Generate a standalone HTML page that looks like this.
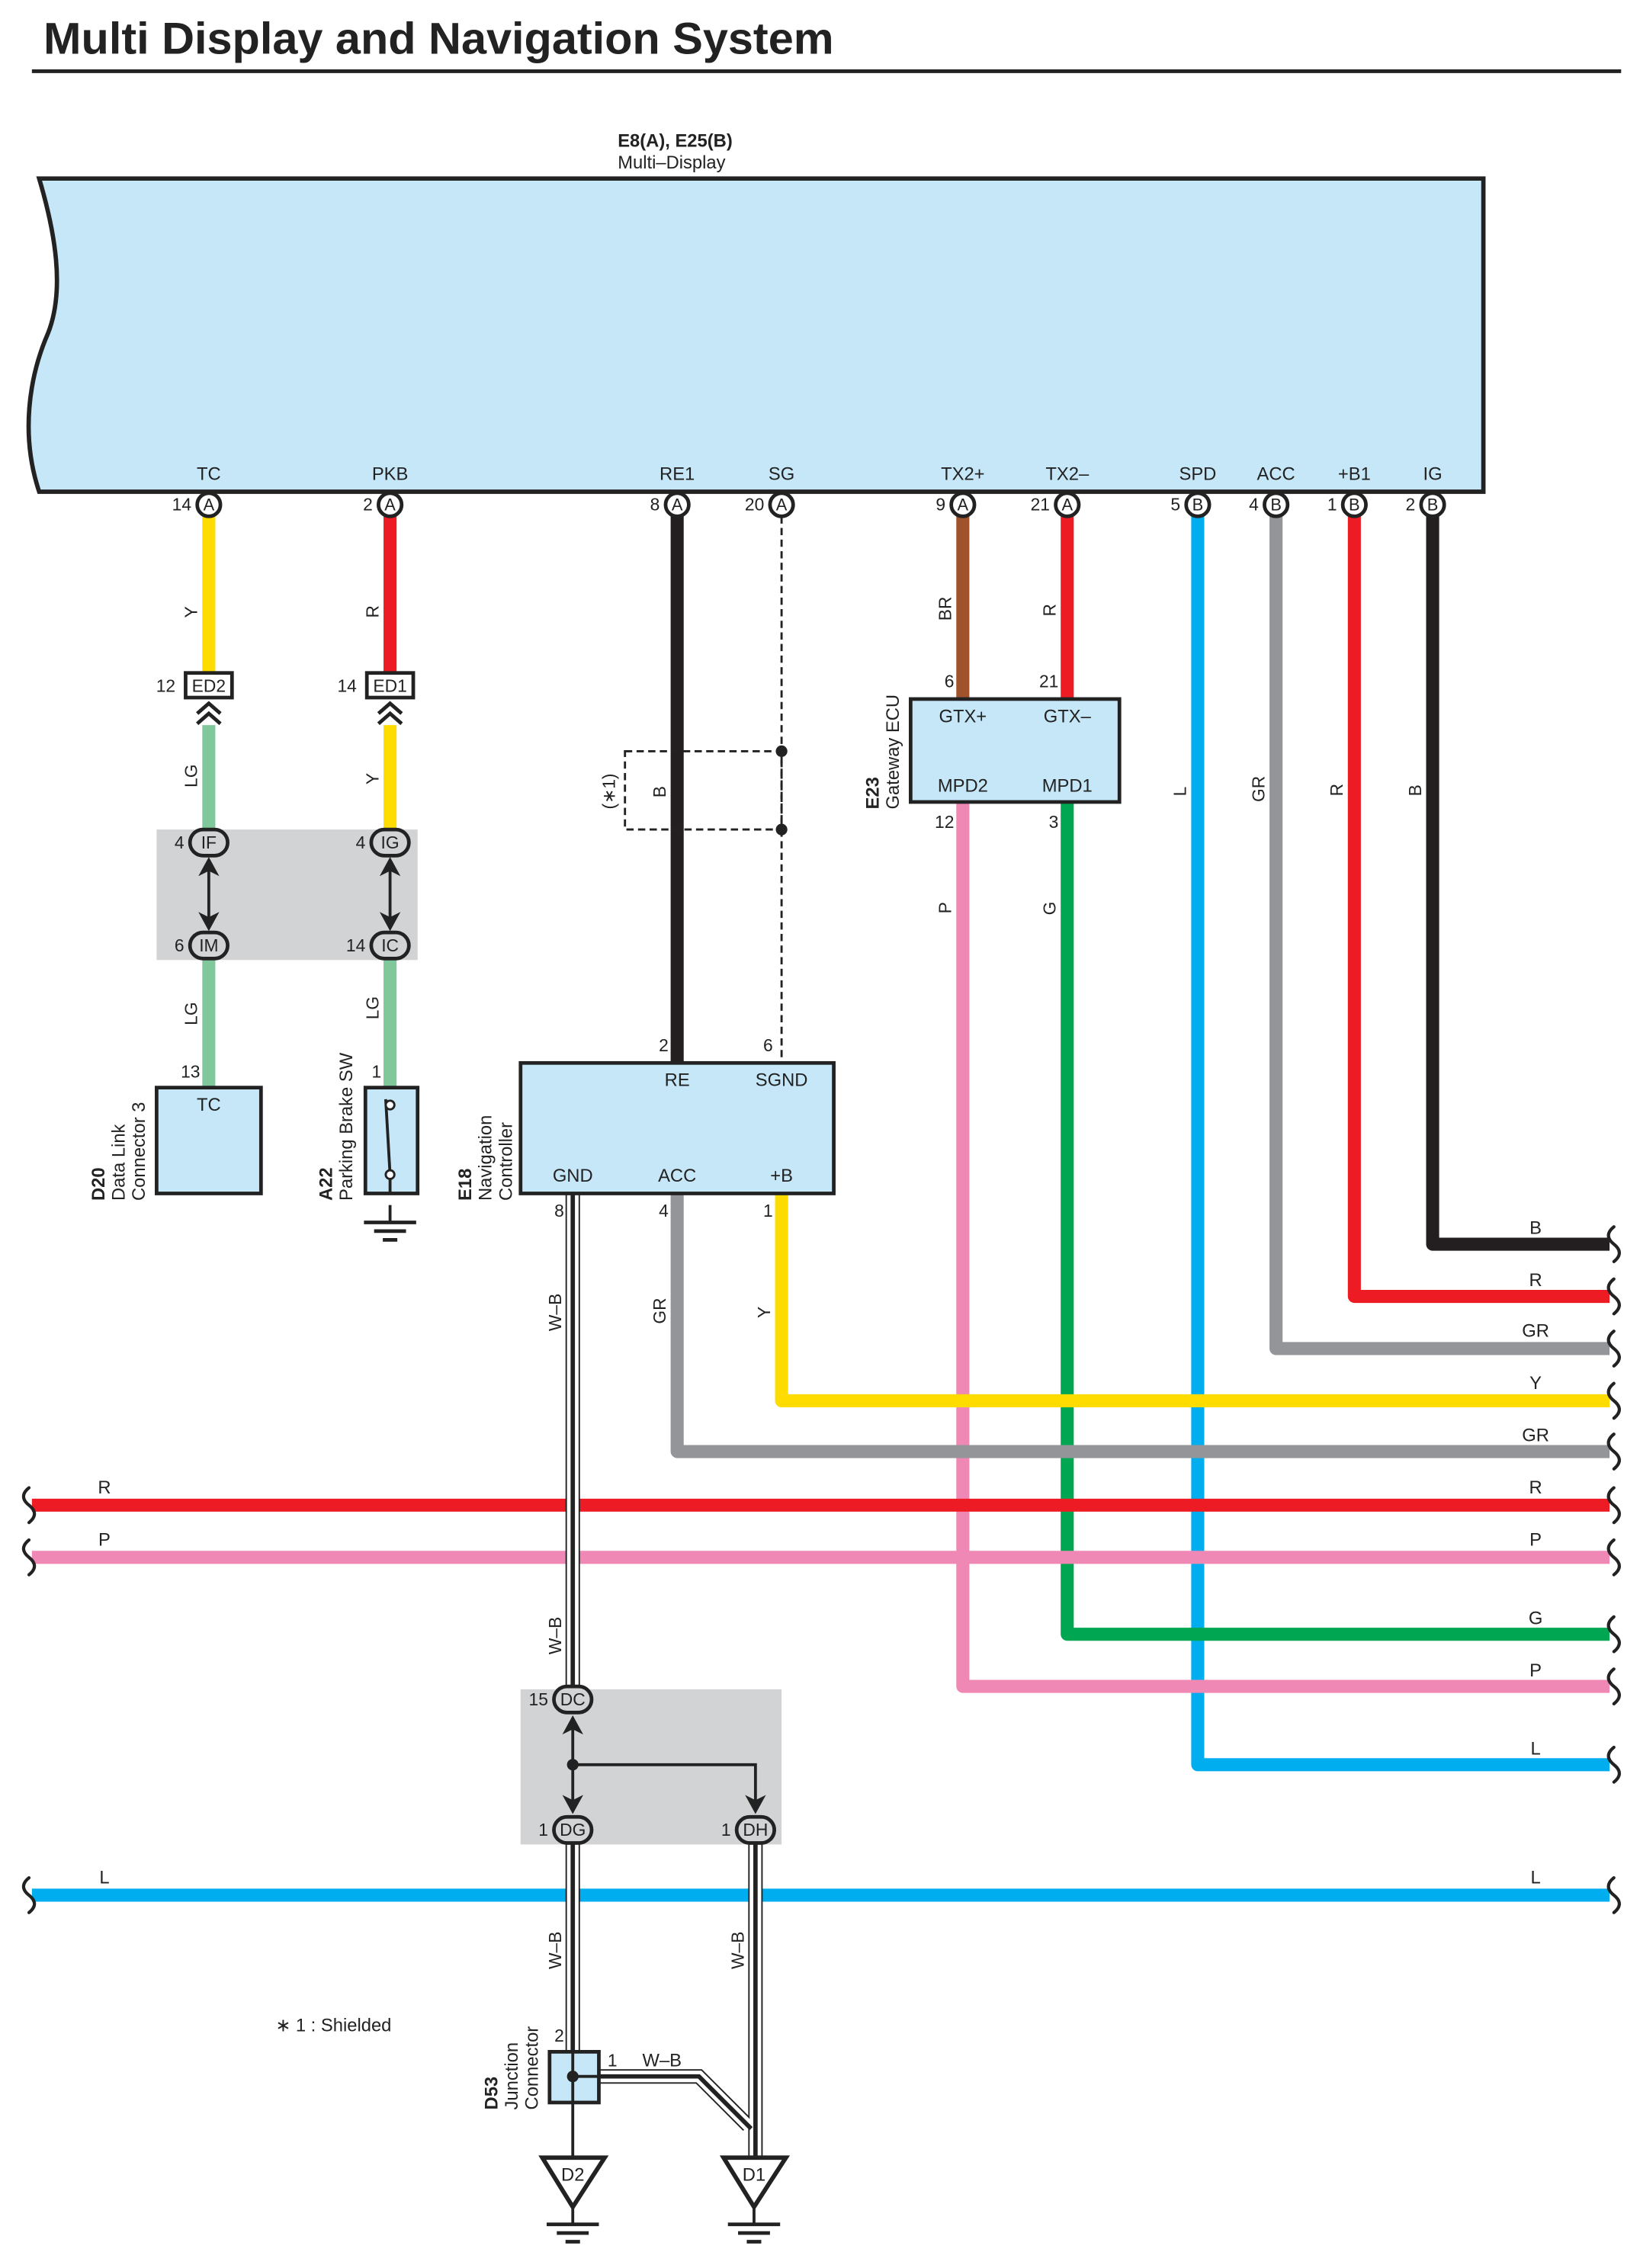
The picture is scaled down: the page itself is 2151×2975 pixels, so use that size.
<!DOCTYPE html>
<html><head><meta charset="utf-8"><style>
html,body{margin:0;padding:0;background:#fff}
svg{display:block}
text{font-family:"Liberation Sans",sans-serif;fill:#222}
</style></head><body>
<svg width="2151" height="2975" viewBox="0 0 1131 1564" xmlns="http://www.w3.org/2000/svg">
<defs>
<g id="gnd"><line x1="0" y1="0" x2="0" y2="12" stroke="#222" stroke-width="2"/><line x1="-18" y1="12" x2="18" y2="12" stroke="#222" stroke-width="2.5"/><line x1="-11" y1="18" x2="11" y2="18" stroke="#222" stroke-width="2.5"/><line x1="-5" y1="24" x2="5" y2="24" stroke="#222" stroke-width="2.5"/></g>
</defs>
<!-- title -->
<text x="30" y="37" font-size="30.5" font-weight="bold" fill="#111" textLength="545" lengthAdjust="spacingAndGlyphs">Multi Display and Navigation System</text>
<line x1="22" y1="49" x2="1118" y2="49" stroke="#222" stroke-width="2.5"/>

<!-- Multi display -->
<text x="426" y="101" font-size="12.5" font-weight="bold">E8(A), E25(B)</text>
<text x="426" y="116" font-size="12.5">Multi–Display</text>
<path d="M27,123 L1023,123 L1023,339 L27,339 C14,300 20,260 33,230 C45,200 38,160 27,123 Z" fill="#c6e7f8" stroke="#222" stroke-width="3"/>

<g font-size="12.5" text-anchor="middle">
<text x="144" y="331">TC</text><text x="269" y="331">PKB</text><text x="467" y="331">RE1</text><text x="539" y="331">SG</text>
<text x="664" y="331">TX2+</text><text x="736" y="331">TX2–</text><text x="826" y="331">SPD</text><text x="880" y="331">ACC</text><text x="934" y="331">+B1</text><text x="988" y="331">IG</text>
</g>

<!-- wires -->
<g fill="none" stroke-width="9" stroke-linejoin="round">
<line x1="144" y1="356" x2="144" y2="465" stroke="#ffdc00"/>
<line x1="269" y1="356" x2="269" y2="465" stroke="#ed1c24"/>
<line x1="144" y1="500" x2="144" y2="750" stroke="#80c89c"/>
<line x1="269" y1="500" x2="269" y2="574" stroke="#ffdc00"/>
<line x1="269" y1="660" x2="269" y2="750" stroke="#80c89c"/>
<line x1="467" y1="356" x2="467" y2="733" stroke="#231f20"/>
<line x1="664" y1="356" x2="664" y2="482" stroke="#a0522d"/>
<line x1="736" y1="356" x2="736" y2="482" stroke="#ed1c24"/>
<path d="M826,356 V1217 H1110" stroke="#00aeef"/>
<path d="M880,356 V930 H1110" stroke="#939598"/>
<path d="M934,356 V894 H1110" stroke="#ed1c24"/>
<path d="M988,356 V858 H1110" stroke="#231f20"/>
<path d="M664,553 V1163 H1110" stroke="#f088b6"/>
<path d="M736,553 V1127 H1110" stroke="#00a651"/>
<path d="M467,823 V1001 H1110" stroke="#939598"/>
<path d="M539,823 V966 H1110" stroke="#ffdc00"/>
<line x1="22" y1="1038" x2="1110" y2="1038" stroke="#ed1c24"/>
<line x1="22" y1="1074" x2="1110" y2="1074" stroke="#f088b6"/>
<line x1="22" y1="1307" x2="1110" y2="1307" stroke="#00aeef"/>
</g>
<!-- SG dashed -->
<line x1="539" y1="356" x2="539" y2="733" stroke="#222" stroke-width="1.5" stroke-dasharray="5,3"/>
<rect x="431" y="518" width="108" height="54" fill="none" stroke="#222" stroke-width="1.5" stroke-dasharray="5,3"/>
<circle cx="539" cy="518" r="4" fill="#222"/><circle cx="539" cy="572" r="4" fill="#222"/>

<!-- W-B wires -->
<g fill="none">
<g stroke="#222" stroke-width="10"><line x1="395" y1="823" x2="395" y2="1165"/><line x1="395" y1="1272" x2="395" y2="1415"/><line x1="521" y1="1272" x2="521" y2="1487"/><path d="M413,1432 H482 L516,1466"/></g>
<g stroke="#fff" stroke-width="8"><line x1="395" y1="823" x2="395" y2="1165"/><line x1="395" y1="1272" x2="395" y2="1415"/><line x1="521" y1="1272" x2="521" y2="1487"/><path d="M413,1432 H482 L516,1466"/></g>
<g stroke="#222" stroke-width="3"><line x1="395" y1="823" x2="395" y2="1165"/><line x1="395" y1="1272" x2="395" y2="1415"/><line x1="521" y1="1272" x2="521" y2="1487"/><path d="M413,1432 H482 L518,1468"/></g>
</g>

<!-- pin circles -->
<g fill="#fff" stroke="#222" stroke-width="2.5">
<circle cx="144" cy="348" r="8"/><circle cx="269" cy="348" r="8"/><circle cx="467" cy="348" r="8"/><circle cx="539" cy="348" r="8"/>
<circle cx="664" cy="348" r="8"/><circle cx="736" cy="348" r="8"/><circle cx="826" cy="348" r="8"/><circle cx="880" cy="348" r="8"/><circle cx="934" cy="348" r="8"/><circle cx="988" cy="348" r="8"/>
</g>
<g font-size="11.5" text-anchor="middle">
<text x="144" y="352">A</text><text x="269" y="352">A</text><text x="467" y="352">A</text><text x="539" y="352">A</text><text x="664" y="352">A</text><text x="736" y="352">A</text>
<text x="826" y="352">B</text><text x="880" y="352">B</text><text x="934" y="352">B</text><text x="988" y="352">B</text>
</g>
<g font-size="12" text-anchor="end">
<text x="132" y="352">14</text><text x="257" y="352">2</text><text x="455" y="352">8</text><text x="527" y="352">20</text><text x="652" y="352">9</text><text x="724" y="352">21</text>
<text x="814" y="352">5</text><text x="868" y="352">4</text><text x="922" y="352">1</text><text x="976" y="352">2</text>
</g>

<!-- ED boxes -->
<rect x="128" y="464" width="32" height="17" fill="#fff" stroke="#222" stroke-width="2.5"/>
<rect x="253" y="464" width="32" height="17" fill="#fff" stroke="#222" stroke-width="2.5"/>
<text x="144" y="477" font-size="12" text-anchor="middle">ED2</text><text x="269" y="477" font-size="12" text-anchor="middle">ED1</text>
<text x="121" y="477" font-size="12" text-anchor="end">12</text><text x="246" y="477" font-size="12" text-anchor="end">14</text>
<g fill="none" stroke="#222" stroke-width="2.5">
<path d="M136,492 L144,485 L152,492 M136,499 L144,492 L152,499"/>
<path d="M261,492 L269,485 L277,492 M261,499 L269,492 L277,499"/>
</g>

<!-- gray junction box 1 -->
<rect x="108" y="572" width="180" height="90" fill="#d1d3d4"/>
<g stroke="#222" stroke-width="2.5" fill="#d1d3d4">
<rect x="131" y="572" width="26" height="18" rx="9"/><rect x="131" y="643" width="26" height="18" rx="9"/>
<rect x="256" y="572" width="26" height="18" rx="9"/><rect x="256" y="643" width="26" height="18" rx="9"/>
</g>
<g font-size="12" text-anchor="middle">
<text x="144" y="585">IF</text><text x="144" y="656">IM</text><text x="269" y="585">IG</text><text x="269" y="656">IC</text>
</g>
<g font-size="12" text-anchor="end"><text x="127" y="585">4</text><text x="127" y="656">6</text><text x="252" y="585">4</text><text x="252" y="656">14</text></g>
<g fill="#222" stroke="#222">
<line x1="144" y1="596" x2="144" y2="636" stroke-width="2"/><path d="M138,603 L144,592 L150,603 L144,600Z M138,630 L144,641 L150,630 L144,633Z"/>
<line x1="269" y1="596" x2="269" y2="636" stroke-width="2"/><path d="M263,603 L269,592 L275,603 L269,600Z M263,630 L269,641 L275,630 L269,633Z"/>
</g>

<!-- D20 -->
<rect x="108" y="750" width="72" height="73" fill="#c6e7f8" stroke="#222" stroke-width="2.5"/>
<text x="144" y="766" font-size="12.5" text-anchor="middle">TC</text>
<text x="138" y="743" font-size="12" text-anchor="end">13</text>
<g transform="translate(72,828) rotate(-90)"><text font-size="12.5" font-weight="bold">D20</text></g>
<g transform="translate(86,828) rotate(-90)"><text font-size="12.5">Data Link</text></g>
<g transform="translate(100,828) rotate(-90)"><text font-size="12.5">Connector 3</text></g>

<!-- A22 -->
<rect x="252" y="750" width="36" height="73" fill="#c6e7f8" stroke="#222" stroke-width="2.5"/>
<text x="263" y="743" font-size="12" text-anchor="end">1</text>
<line x1="266" y1="758" x2="269" y2="810" stroke="#222" stroke-width="2"/>
<circle cx="269" cy="762" r="3" fill="#fff" stroke="#222" stroke-width="1.5"/><circle cx="269" cy="810" r="3" fill="#fff" stroke="#222" stroke-width="1.5"/>
<line x1="269" y1="813" x2="269" y2="823" stroke="#222" stroke-width="2"/>
<use href="#gnd" x="269" y="831"/>
<g transform="translate(229,828) rotate(-90)"><text font-size="12.5" font-weight="bold">A22</text></g>
<g transform="translate(243,828) rotate(-90)"><text font-size="12.5">Parking Brake SW</text></g>

<!-- E18 -->
<rect x="359" y="733" width="216" height="90" fill="#c6e7f8" stroke="#222" stroke-width="2.5"/>
<g font-size="12.5" text-anchor="middle"><text x="467" y="749">RE</text><text x="539" y="749">SGND</text><text x="395" y="815">GND</text><text x="467" y="815">ACC</text><text x="539" y="815">+B</text></g>
<g font-size="12" text-anchor="end"><text x="461" y="725">2</text><text x="533" y="725">6</text><text x="389" y="839">8</text><text x="461" y="839">4</text><text x="533" y="839">1</text></g>
<g transform="translate(325,828) rotate(-90)"><text font-size="12.5" font-weight="bold">E18</text></g>
<g transform="translate(339,828) rotate(-90)"><text font-size="12.5">Navigation</text></g>
<g transform="translate(353,828) rotate(-90)"><text font-size="12.5">Controller</text></g>

<!-- E23 -->
<rect x="628" y="482" width="144" height="71" fill="#c6e7f8" stroke="#222" stroke-width="2.5"/>
<g font-size="12.5" text-anchor="middle"><text x="664" y="498">GTX+</text><text x="736" y="498">GTX–</text><text x="664" y="546">MPD2</text><text x="736" y="546">MPD1</text></g>
<g font-size="12" text-anchor="end"><text x="658" y="474">6</text><text x="730" y="474">21</text><text x="658" y="571">12</text><text x="730" y="571">3</text></g>
<g transform="translate(606,558) rotate(-90)"><text font-size="12.5" font-weight="bold">E23</text></g>
<g transform="translate(620,558) rotate(-90)"><text font-size="12.5">Gateway ECU</text></g>

<!-- gray box 2 -->
<rect x="359" y="1165" width="180" height="107" fill="#d1d3d4"/>
<g stroke="#222" stroke-width="2.5" fill="#d1d3d4">
<rect x="382" y="1163" width="26" height="18" rx="9"/><rect x="382" y="1253" width="26" height="18" rx="9"/><rect x="508" y="1253" width="26" height="18" rx="9"/>
</g>
<g font-size="12" text-anchor="middle"><text x="395" y="1176">DC</text><text x="395" y="1266">DG</text><text x="521" y="1266">DH</text></g>
<g font-size="12" text-anchor="end"><text x="378" y="1176">15</text><text x="378" y="1266">1</text><text x="504" y="1266">1</text></g>
<g fill="#222" stroke="#222">
<line x1="395" y1="1188" x2="395" y2="1245" stroke-width="2"/>
<path d="M389,1195 L395,1184 L401,1195 L395,1192Z M389,1239 L395,1250 L401,1239 L395,1242Z"/>
<circle cx="395" cy="1217" r="3.5"/>
<path d="M395,1217 H521 V1245" fill="none" stroke-width="2"/>
<path d="M515,1239 L521,1250 L527,1239 L521,1242Z"/>
</g>

<!-- D53 -->
<rect x="379" y="1415" width="34" height="35" fill="#c6e7f8" stroke="#222" stroke-width="2.5"/>
<line x1="395" y1="1415" x2="395" y2="1487" stroke="#222" stroke-width="2"/>
<line x1="395" y1="1432" x2="413" y2="1432" stroke="#222" stroke-width="2"/>
<circle cx="395" cy="1432" r="4" fill="#222"/>
<text x="389" y="1408" font-size="12" text-anchor="end">2</text>
<text x="419" y="1425" font-size="12">1</text>
<text x="443" y="1425" font-size="12.5">W–B</text>
<g transform="translate(343,1455) rotate(-90)"><text font-size="12.5" font-weight="bold">D53</text></g>
<g transform="translate(357,1455) rotate(-90)"><text font-size="12.5">Junction</text></g>
<g transform="translate(371,1455) rotate(-90)"><text font-size="12.5">Connector</text></g>

<!-- grounds -->
<path d="M374,1488 L417,1488 L395,1522 Z" fill="#fff" stroke="#222" stroke-width="3"/>
<text x="395" y="1504" font-size="12.5" text-anchor="middle">D2</text>
<use href="#gnd" x="395" y="1522"/>
<path d="M499,1488 L542,1488 L520,1522 Z" fill="#fff" stroke="#222" stroke-width="3"/>
<text x="520" y="1504" font-size="12.5" text-anchor="middle">D1</text>
<use href="#gnd" x="520" y="1522"/>

<text x="190" y="1401" font-size="12.5">∗ 1 : Shielded</text>

<!-- wire labels rotated -->
<g font-size="12">
<g transform="translate(136,426) rotate(-90)"><text>Y</text></g>
<g transform="translate(261,426) rotate(-90)"><text>R</text></g>
<g transform="translate(136,543) rotate(-90)"><text>LG</text></g>
<g transform="translate(261,541) rotate(-90)"><text>Y</text></g>
<g transform="translate(136,707) rotate(-90)"><text>LG</text></g>
<g transform="translate(261,703) rotate(-90)"><text>LG</text></g>
<g transform="translate(424,558) rotate(-90)"><text>(∗1)</text></g>
<g transform="translate(459,550) rotate(-90)"><text>B</text></g>
<g transform="translate(656,428) rotate(-90)"><text>BR</text></g>
<g transform="translate(728,425) rotate(-90)"><text>R</text></g>
<g transform="translate(656,630) rotate(-90)"><text>P</text></g>
<g transform="translate(728,631) rotate(-90)"><text>G</text></g>
<g transform="translate(818,549) rotate(-90)"><text>L</text></g>
<g transform="translate(872,553) rotate(-90)"><text>GR</text></g>
<g transform="translate(926,549) rotate(-90)"><text>R</text></g>
<g transform="translate(980,549) rotate(-90)"><text>B</text></g>
<g transform="translate(387,918) rotate(-90)"><text>W–B</text></g>
<g transform="translate(459,913) rotate(-90)"><text>GR</text></g>
<g transform="translate(531,909) rotate(-90)"><text>Y</text></g>
<g transform="translate(387,1141) rotate(-90)"><text>W–B</text></g>
<g transform="translate(387,1358) rotate(-90)"><text>W–B</text></g>
<g transform="translate(513,1358) rotate(-90)"><text>W–B</text></g>
</g>

<!-- right labels -->
<g font-size="12.5" text-anchor="middle">
<text x="1059" y="851">B</text><text x="1059" y="887">R</text><text x="1059" y="922">GR</text><text x="1059" y="958">Y</text><text x="1059" y="994">GR</text>
<text x="1059" y="1030">R</text><text x="1059" y="1066">P</text><text x="1059" y="1120">G</text><text x="1059" y="1156">P</text><text x="1059" y="1210">L</text><text x="1059" y="1299">L</text>
<text x="72" y="1030">R</text><text x="72" y="1066">P</text><text x="72" y="1299">L</text>
</g>

<!-- break marks -->
<g fill="none" stroke="#222" stroke-width="2.2" stroke-linecap="round">
<path d="M1113,846 c-5,4 -5,8 0,12 c5,4 5,8 0,12"/>
<path d="M1113,882 c-5,4 -5,8 0,12 c5,4 5,8 0,12"/>
<path d="M1113,918 c-5,4 -5,8 0,12 c5,4 5,8 0,12"/>
<path d="M1113,954 c-5,4 -5,8 0,12 c5,4 5,8 0,12"/>
<path d="M1113,989 c-5,4 -5,8 0,12 c5,4 5,8 0,12"/>
<path d="M1113,1026 c-5,4 -5,8 0,12 c5,4 5,8 0,12"/>
<path d="M1113,1062 c-5,4 -5,8 0,12 c5,4 5,8 0,12"/>
<path d="M1113,1115 c-5,4 -5,8 0,12 c5,4 5,8 0,12"/>
<path d="M1113,1151 c-5,4 -5,8 0,12 c5,4 5,8 0,12"/>
<path d="M1113,1205 c-5,4 -5,8 0,12 c5,4 5,8 0,12"/>
<path d="M1113,1295 c-5,4 -5,8 0,12 c5,4 5,8 0,12"/>
<path d="M20,1026 c-5,4 -5,8 0,12 c5,4 5,8 0,12"/>
<path d="M20,1062 c-5,4 -5,8 0,12 c5,4 5,8 0,12"/>
<path d="M20,1295 c-5,4 -5,8 0,12 c5,4 5,8 0,12"/>
</g>
</svg>
</body></html>
